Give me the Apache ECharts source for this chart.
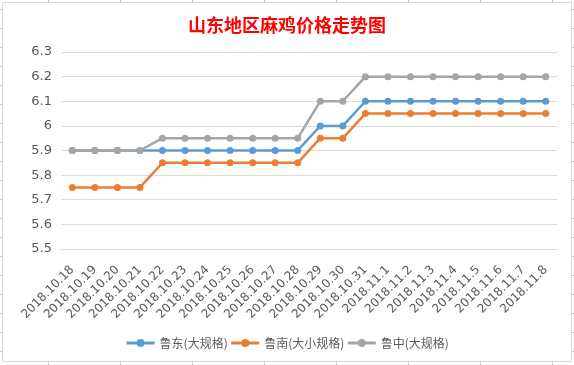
<!DOCTYPE html>
<html><head><meta charset="utf-8">
<script src="https://cdn.jsdelivr.net/npm/echarts@6/dist/echarts.min.js"></script>
<style>html,body{margin:0;padding:0;background:#fff;}#c{width:574px;height:365px;}</style>
</head><body><div id="c"></div>
<script>
const categories = ['2018.10.18','2018.10.19','2018.10.20','2018.10.21','2018.10.22','2018.10.23','2018.10.24','2018.10.25','2018.10.26','2018.10.27','2018.10.28','2018.10.29','2018.10.30','2018.10.31','2018.11.1','2018.11.2','2018.11.3','2018.11.4','2018.11.5','2018.11.6','2018.11.7','2018.11.8'];
const ludong = [5.9,5.9,5.9,5.9,5.9,5.9,5.9,5.9,5.9,5.9,5.9,6.0,6.0,6.1,6.1,6.1,6.1,6.1,6.1,6.1,6.1,6.1];
const lunan = [5.75,5.75,5.75,5.75,5.85,5.85,5.85,5.85,5.85,5.85,5.85,5.95,5.95,6.05,6.05,6.05,6.05,6.05,6.05,6.05,6.05,6.05];
const luzhong = [5.9,5.9,5.9,5.9,5.95,5.95,5.95,5.95,5.95,5.95,5.95,6.1,6.1,6.2,6.2,6.2,6.2,6.2,6.2,6.2,6.2,6.2];
const seriesNames = ['鲁东(大规格)','鲁南(大小规格)','鲁中(大规格)'];
const yMin = 5.5, yMax = 6.3, yStep = 0.1;

const chart = echarts.init(document.getElementById('c'), null, {renderer:'canvas'});
const colors = ['#5B9BD5','#ED7D31','#A5A5A5'];
const gridColor = '#D9D9D9';
// spreadsheet decoration around chart box
const deco = [];
[48,120,192,264,336,408,480,552].forEach(x=>{
  deco.push({type:'line',shape:{x1:x+0.5,y1:0,x2:x+0.5,y2:2},style:{stroke:'#C8C8C8',lineWidth:1}});
  deco.push({type:'line',shape:{x1:x+0.5,y1:362,x2:x+0.5,y2:365},style:{stroke:'#C8C8C8',lineWidth:1}});
});
for(let y=9;y<365;y+=19){
  deco.push({type:'line',shape:{x1:0,y1:y+0.5,x2:2,y2:y+0.5},style:{stroke:'#C8C8C8',lineWidth:1}});
  deco.push({type:'line',shape:{x1:572,y1:y+0.5,x2:574,y2:y+0.5},style:{stroke:'#C8C8C8',lineWidth:1}});
}
deco.push({type:'rect',shape:{x:2.5,y:2.5,width:569,height:359},style:{fill:null,stroke:gridColor,lineWidth:1}});

chart.setOption({
  animation:false,
  color:colors,
  title:{text:'山东地区麻鸡价格走势图',left:'center',top:11,
    textStyle:{color:'#FF0000',fontSize:18,fontWeight:'bold',fontFamily:'"Noto Sans CJK SC"'}},
  graphic:deco,
  grid:{left:61,right:17,top:52,bottom:116,containLabel:false},
  legend:{bottom:11,left:'center',itemGap:2,itemWidth:28,itemHeight:10,
    lineStyle:{width:3},
    textStyle:{color:'#595959',fontSize:12,fontFamily:'"Noto Sans CJK SC"'},
    data:seriesNames},
  xAxis:{type:'category',data:categories,boundaryGap:true,
    axisLine:{show:true,lineStyle:{color:gridColor,width:1}},
    axisTick:{show:false},
    axisLabel:{rotate:45,interval:0,margin:19,color:'#595959',fontSize:12,fontFamily:'"DejaVu Sans"'}},
  yAxis:{type:'value',min:yMin,max:yMax,interval:yStep,
    axisLine:{show:false},axisTick:{show:false},
    splitLine:{lineStyle:{color:gridColor,width:1}},
    axisLabel:{margin:9,color:'#595959',fontSize:13,fontFamily:'"DejaVu Sans"',
      formatter:v=>String(Math.round(v*10)/10)}},
  series:[
    {name:seriesNames[0],type:'line',data:ludong,symbol:'circle',symbolSize:7,lineStyle:{width:2.5},itemStyle:{color:colors[0]}},
    {name:seriesNames[1],type:'line',data:lunan,symbol:'circle',symbolSize:7,lineStyle:{width:2.5},itemStyle:{color:colors[1]}},
    {name:seriesNames[2],type:'line',data:luzhong,symbol:'circle',symbolSize:7,lineStyle:{width:2.5},itemStyle:{color:colors[2]}}
  ]
});
</script></body></html>
